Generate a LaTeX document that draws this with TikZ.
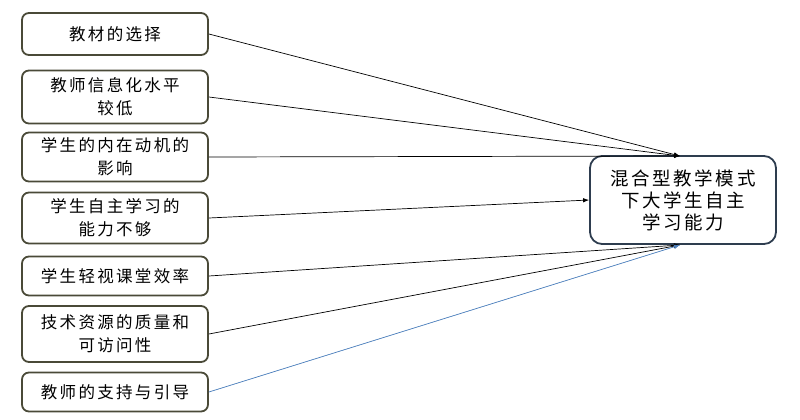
\documentclass[tikz,border=0pt]{standalone}
\usepackage{fontspec}
\usepackage{xcolor}
\usetikzlibrary{arrows.meta}
\newfontfamily\cjk[LetterSpace=14]{Noto Sans CJK SC}

\definecolor{boxedge}{HTML}{4A4A38}
\definecolor{goaledge}{HTML}{2E3D4F}
\definecolor{linkblue}{HTML}{4F81BD}

\begin{document}
\begin{tikzpicture}[x=1pt, y=-1pt,
  cause/.style={draw=boxedge, line width=1.8pt, rounded corners=7pt, fill=white,
    minimum width=186pt, align=center, inner sep=2pt,
    font=\cjk\fontsize{16.5}{23}\selectfont},
  goal/.style={draw=goaledge, line width=1.8pt, rounded corners=12pt, fill=white,
    minimum width=186pt, minimum height=88pt, align=center, inner sep=2pt,
    font=\cjk\fontsize{18.5}{22}\selectfont},
  link/.style={line width=0.7pt, -{Latex[length=6pt,width=4.5pt]}}]

\useasboundingbox (0,0) rectangle (800,420);

% Ursachen links
\node[cause, minimum height=42pt] (c1) at (115,34)  {教材的选择};
\node[cause, minimum height=53pt] (c2) at (115,97)  {教师信息化水平\\较低};
\node[cause, minimum height=49pt] (c3) at (115,157) {学生的内在动机的\\影响};
\node[cause, minimum height=51pt] (c4) at (115,218) {学生自主学习的\\能力不够};
\node[cause, minimum height=39pt] (c5) at (115,276) {学生轻视课堂效率};
\node[cause, minimum height=56pt] (c6) at (115,334) {技术资源的质量和\\可访问性};
\node[cause, minimum height=39pt] (c7) at (115,392) {教师的支持与引导};

% Ziel rechts
\node[goal] (g) at (683,200) {混合型教学模式\\下大学生自主\\学习能力};

% Pfeile oben
\coordinate (gtop) at (680,156);
\draw[link] (c1.east) -- (gtop);
\draw[link] (c2.east) -- (gtop);
\draw[link] (c3.east) -- (gtop);

% Pfeil links
\draw[link] (c4.east) -- (g.west);

% Pfeile unten
\coordinate (gbot) at (680,245);
\draw[link] (c5.east) -- (gbot);
\draw[link] (c6.east) -- (gbot);
\draw[link, draw=linkblue, fill=linkblue] (c7.east) -- (gbot);

\end{tikzpicture}
\end{document}
